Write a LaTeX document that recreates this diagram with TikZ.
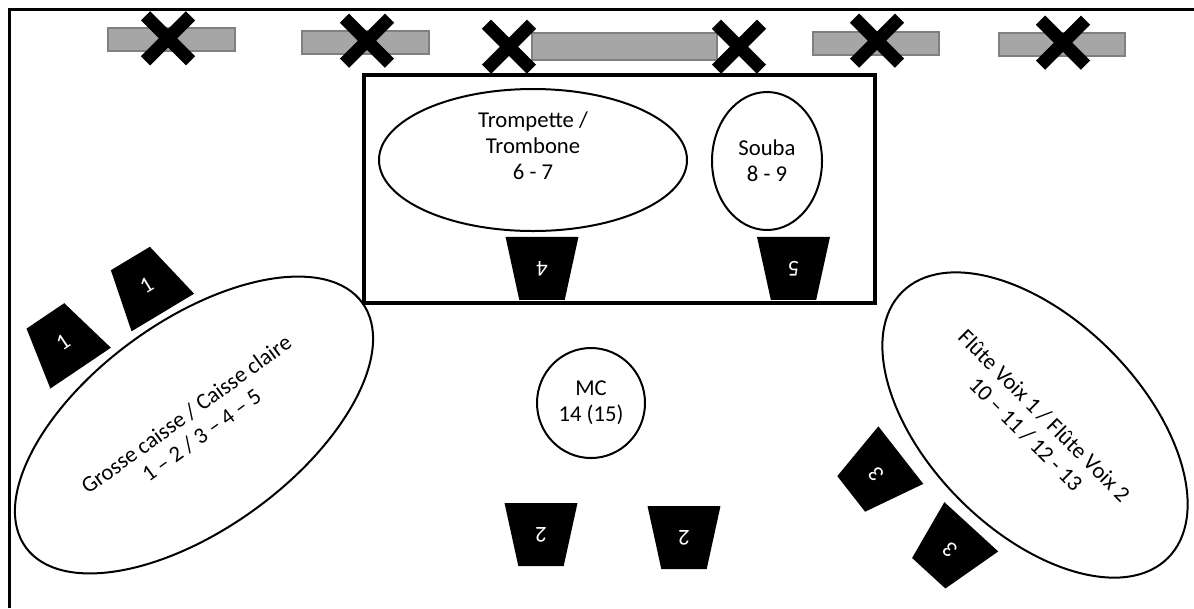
\documentclass[tikz,border=0pt]{standalone}
\usepackage{fontspec}
\setmainfont{Carlito}
\usetikzlibrary{shapes.geometric,shapes.misc}

\begin{document}
\begin{tikzpicture}[x=0.75pt, y=-0.75pt,
	font=\fontsize{17}{19.5}\selectfont,
	group/.style = { draw, ellipse, line width=1.5pt, align=center, inner sep=0pt },
	desk/.style = { trapezium, trapezium stretches=true, trapezium angle=76.6,
		fill=black, text=white, minimum width=54.75pt, minimum height=47.25pt, inner sep=0pt },
	bench/.style = { draw=black!50, fill=black!35, line width=1.5pt, inner sep=0pt,
		minimum width=95pt, minimum height=17.25pt },
	xmark/.style = { cross out, draw, line width=9.75pt, minimum size=24pt, inner sep=0pt }]

  \useasboundingbox (0,0) rectangle (1194,608);
  \draw[line width=2.6pt] (9.5,608) |- (1194,9.5);

  % benches at the back, and the crosses on them
  \node[bench] (b1) at (171.5,39.7) {};
  \node[bench] (b2) at (365.5,42) {};
  \node[bench, minimum width=138.75pt, minimum height=20.25pt] (b3) at (624.5,46.7) {};
  \node[bench] (b4) at (876,43.7) {};
  \node[bench] (b5) at (1062,44.7) {};
  \node[xmark] (x1) at (168,38.3) {};
  \node[xmark] (x2) at (367,40.7) {};
  \node[xmark] (x3) at (509,46.7) {};
  \node[xmark] (x4) at (739,46.7) {};
  \node[xmark] (x5) at (877,40.7) {};
  \node[xmark] (x6) at (1063,42.7) {};

  % stage
  \draw[line width=2.6pt] (364,75) rectangle (875,303);
  \node[group, minimum width=231pt, minimum height=106.5pt] (brass) at (533,160) {};
  \path (brass.center) ++(0,-14) node[align=center] (brasstext)
    {Trompette /\\Trombone\\6 - 7};
  \node[group, minimum width=82.5pt, minimum height=103.5pt] (souba) at (767,161)
    {Souba\\8 - 9};
  \node[desk, rotate=180] (d4) at (542,268.3) {4};
  \node[desk, rotate=180] (d5) at (793.5,268.3) {5};

  % front
  \node[group, minimum width=81pt, minimum height=82.5pt] (mc) at (591,403)
    {MC\\14 (15)};
  \node[desk, rotate=180] (d2a) at (541,534.7) {2};
  \node[desk, rotate=180] (d2b) at (684,537.7) {2};

  \node[group, rotate=36, minimum width=312pt, minimum height=156pt] (drums) at (194,425)
    {Grosse caisse / Caisse claire\\1 – 2 / 3 – 4 – 5};
  \node[desk, rotate=31] (d1a) at (146.6,285.5) {1};
  \node[desk, rotate=34] (d1b) at (63,342) {1};

  \node[group, rotate=-45, minimum width=282pt, minimum height=159pt] (flutes) at (1035,425)
    {Flûte Voix 1 / Flûte Voix 2\\10 – 11 / 12 - 13};
  \node[desk, rotate=128] (d3a) at (876,474.5) {3};
  \node[desk, rotate=137.5] (d3b) at (950,550) {3};
\end{tikzpicture}
\end{document}
